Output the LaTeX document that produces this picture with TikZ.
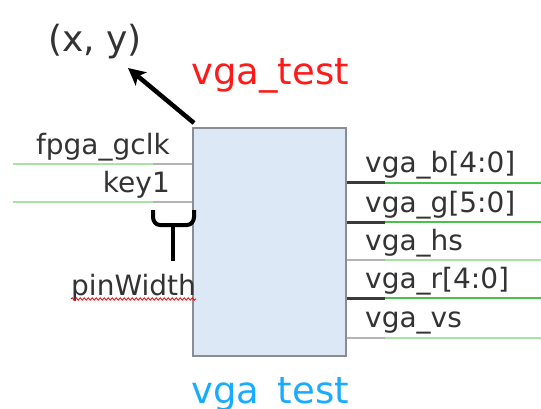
\documentclass[tikz,border=0pt]{standalone}
\usepackage{fontspec}
\setmainfont{DejaVu Sans}
\usetikzlibrary{arrows.meta,decorations.pathmorphing}
\definecolor{txt}{HTML}{333333}
\definecolor{boxfill}{HTML}{DCE8F6}
\definecolor{boxline}{HTML}{8A8E92}
\definecolor{redt}{HTML}{FF1A1A}
\definecolor{bluet}{HTML}{1AABFF}
\definecolor{busgreen}{HTML}{4CC04C}
\definecolor{sglgreen}{HTML}{A8E4A8}
\definecolor{busdark}{HTML}{3A3A3A}
\definecolor{sglgray}{HTML}{B4B4B4}
\begin{document}
\begin{tikzpicture}[x=1pt,y=-1pt,
  pinlbl/.style={inner sep=0pt,text=txt,font=\fontsize{28}{28}\selectfont},
  bigred/.style={inner sep=0pt,text=redt,font=\fontsize{37}{37}\selectfont},
  bigblue/.style={inner sep=0pt,text=bluet,font=\fontsize{37}{37}\selectfont},
  busA/.style={draw=busdark,line width=3pt},
  busB/.style={draw=busgreen,line width=2.4pt},
  sglA/.style={draw=sglgray,line width=2pt},
  sglB/.style={draw=sglgreen,line width=2pt},
  inA/.style={draw=sglgray,line width=1.5pt},
  inB/.style={draw=sglgreen,line width=1.5pt},
  heavy/.style={draw=black,line width=4.5pt}]
\useasboundingbox (0,0) rectangle (541,409);
% block
\node[draw=boxline,fill=boxfill,line width=1.8pt,minimum width=153pt,minimum height=228pt,inner sep=0pt,anchor=north west] (blk) at (192,127) {};
% title texts
\node[bigred,anchor=base] (tname) at (270,85) {vga\_test};
\node[bigblue,anchor=base] (bname) at (270,403) {vga\_test};
\node[inner sep=0pt,text=txt,font=\fontsize{36}{36}\selectfont,anchor=base west] (xy) at (48,52) {(x, y)};
% arrow
\coordinate (corner) at (194,123);
\coordinate (tip) at (128,68);
\draw[heavy,-{Stealth[length=17pt,width=17pt,inset=4pt]}] (corner) -- (tip);
% left pins
\coordinate (l1) at (13,164); \coordinate (l1m) at (153,164); \coordinate (l1b) at (blk.west |- l1);
\coordinate (l2) at (13,202); \coordinate (l2m) at (153,202); \coordinate (l2b) at (blk.west |- l2);
\draw[inB] (l1) -- (l1m); \draw[inA] (l1m) -- (l1b);
\draw[inB] (l2) -- (l2m); \draw[inA] (l2m) -- (l2b);
\node[pinlbl,anchor=base east] (p1) at (170,155) {fpga\_gclk};
\node[pinlbl,anchor=base east] (p2) at (170,193) {key1};
% right pins
\foreach \y/\k in {183/bus,222/bus,260/sgl,298/bus,338/sgl}{
  \coordinate (rb) at (blk.east |- 0,\y);
  \coordinate (rm) at (385,\y);
  \coordinate (re) at (541,\y);
  \draw[\k B] (rm) -- (re);
  \draw[\k A] (rb) -- (rm);
}
\node[pinlbl,anchor=base west] (o1) at (365,173) {vga\_b[4:0]};
\node[pinlbl,anchor=base west] (o2) at (365,212) {vga\_g[5:0]};
\node[pinlbl,anchor=base west] (o3) at (365,250) {vga\_hs};
\node[pinlbl,anchor=base west] (o4) at (365,288) {vga\_r[4:0]};
\node[pinlbl,anchor=base west] (o5) at (365,327) {vga\_vs};
% brace
\draw[black,line width=4pt] (153,210) -- (153,217) to[out=-90,in=180] (160,225) -- (187,225) to[out=0,in=-90] (194,217) -- (194,210);
\coordinate (bc) at (173,225);
\coordinate (bs) at (173,261);
\draw[black,line width=4pt] (bc) -- (bs);
\node[pinlbl,anchor=base west] (pw) at (71,295) {pinWidth};
\draw[red,line width=0.8pt,decorate,decoration={snake,amplitude=1.2pt,segment length=4pt}] (pw.base west |- 0,299) -- (pw.base east |- 0,299);
\end{tikzpicture}
\end{document}
